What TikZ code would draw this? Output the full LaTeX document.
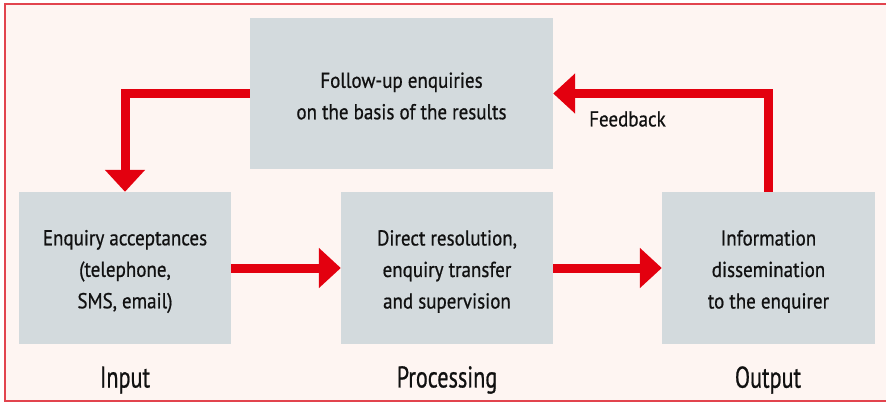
\documentclass[tikz,border=0pt]{standalone}
\usepackage{fontspec}
\setmainfont{PT Sans}[FakeStretch=0.88, FakeBold=0.7]
\newfontfamily\labelfont{PT Sans}[FakeStretch=0.74, FakeBold=0.7]
\usetikzlibrary{arrows.meta}
\definecolor{bgpink}{HTML}{FEF5F2}
\definecolor{boxgrey}{HTML}{D3DADD}
\definecolor{arrred}{HTML}{E3000F}
\definecolor{framered}{HTML}{E2444E}
\definecolor{txt}{HTML}{111111}
\tikzset{
  stepbox/.style={fill=boxgrey, draw=none, minimum width=212pt, minimum height=152pt,
    align=center, text=txt, font=\fontsize{21.6}{31.5}\selectfont, inner sep=0pt},
  arr/.style={draw=arrred, line width=9pt,
    -{Triangle[width=39pt,length=22pt]}},
  phase/.style={text=txt, font=\labelfont\fontsize{30}{34}\selectfont, inner sep=0pt},
  fb/.style={text=txt, font=\fontsize{21.6}{25}\selectfont, inner sep=0pt, anchor=west}
}
\begin{document}
\begin{tikzpicture}[x=1pt,y=-1pt]
\useasboundingbox (0,0) rectangle (886,404);
\begin{scope}
\clip (0,0) rectangle (886,404);
\draw[framered, fill=bgpink, line width=2pt] (4.5,4) rectangle (892,401);
\end{scope}
\node[stepbox, minimum width=303pt, minimum height=151pt] (top) at (401.5,93.5) {};
\node[txt, align=center, font=\fontsize{21.6}{31.5}\selectfont, inner sep=0pt] (toptxt) at (401.5,96)
  {Follow-up enquiries\\on the basis of the results};
\node[stepbox] (left) at (125,268) {};
\node[stepbox] (mid) at (447,268) {};
\node[stepbox, minimum width=213pt] (right) at (768.5,268) {};
\node[align=center, text=txt, font=\fontsize{21.6}{31.5}\selectfont, inner sep=0pt] (lefttxt) at (125,271.5) {Enquiry acceptances\\(telephone,\\SMS, email)};
\node[align=center, text=txt, font=\fontsize{21.6}{31.5}\selectfont, inner sep=0pt] (midtxt) at (447,271.5) {Direct resolution,\\enquiry transfer\\and supervision};
\node[align=center, text=txt, font=\fontsize{21.6}{31.5}\selectfont, inner sep=0pt] (righttxt) at (768.5,271.5) {Information\\dissemination\\to the enquirer};
\draw[arr] (top.west) -| (left.north);
\draw[arr] (right.north) |- (top.east);
\draw[arr] (left.east) -- (mid.west);
\draw[arr] (mid.east) -- (right.west);
\node[fb] (fbl) at (589,119) {Feedback};
\node[phase] (pin) at (125,380) {Input};
\node[phase] (ppr) at (447,380) {Processing};
\node[phase] (pout) at (768,380) {Output};
\end{tikzpicture}
\end{document}
